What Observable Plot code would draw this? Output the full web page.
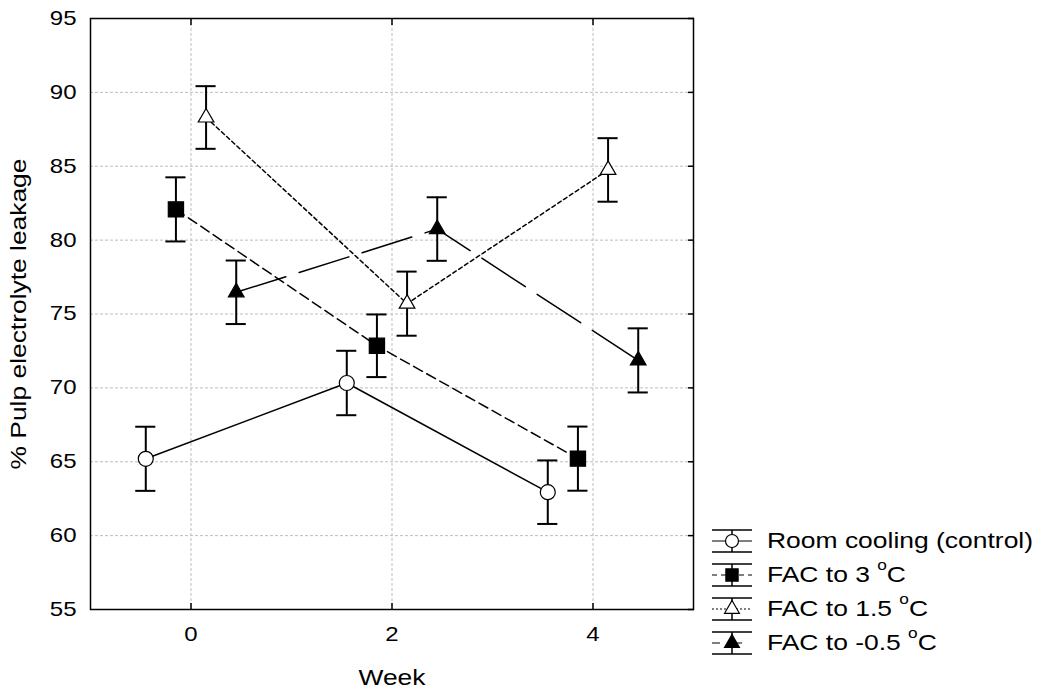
<!DOCTYPE html>
<html>
<head>
<meta charset="utf-8">
<script src="https://cdn.jsdelivr.net/npm/d3@7"></script>
<script src="https://cdn.jsdelivr.net/npm/@observablehq/plot@0.6"></script>
<style>
  html, body { margin: 0; padding: 0; background: #fff; }
  body { width: 1039px; height: 691px; position: relative; overflow: hidden; font-family: "Liberation Sans", Arial, sans-serif; }
  #chart { position: absolute; left: 0; top: 0; }
  #legend { position: absolute; left: 700px; top: 524px; font-size: 21.5px; color: #000; }
  .row { display: flex; align-items: center; height: 34px; }
  .row svg { margin-left: 11px; margin-right: 14px; flex: none; }
  .row span { display: inline-block; transform: scaleX(1.23); transform-origin: left center; white-space: nowrap; }
  sup { font-size: 14px; position: relative; top: -3px; vertical-align: super; line-height: 0; }
</style>
</head>
<body>
<div id="chart"></div>
<div id="legend"></div>
<script>
// ---- data ----
const weeks = [0, 2, 4];
const seriesNames = ["Room cooling (control)", "FAC to 3 °C", "FAC to 1.5 °C", "FAC to -0.5 °C"];
const xOffsets = [-0.45, -0.15, 0.15, 0.45];
const roomCooling = [65.2, 70.33, 62.94];
const fac3 = [82.08, 72.85, 65.21];
const fac15 = [88.3, 75.7, 84.75];
const facMinus05 = [76.47, 80.75, 71.86];
const errRoom = [2.17, 2.18, 2.15];
const errFac3 = [2.17, 2.12, 2.17];
const errFac15 = [2.12, 2.17, 2.15];
const errFacM05 = [2.15, 2.15, 2.17];
const yTicks = [55, 60, 65, 70, 75, 80, 85, 90, 95];
const xTicks = [0, 2, 4];

const seriesValues = [roomCooling, fac3, fac15, facMinus05];
const seriesErrors = [errRoom, errFac3, errFac15, errFacM05];
const styles = [
  {symbol: "circle", fill: "white", r: 7.5, dash: null},
  {symbol: "square", fill: "black", r: 8.6, dash: "10,5"},
  {symbol: "triangle", fill: "white", r: 5.8, dash: "4,3"},
  {symbol: "triangle", fill: "black", r: 5.8, dash: "52,14"}
];

const rows = [];
seriesNames.forEach((name, i) => {
  weeks.forEach((w, j) => {
    rows.push({series: name, si: i, x: w + xOffsets[i], y: seriesValues[i][j], e: seriesErrors[i][j]});
  });
});

const capHalf = 0.1;
const marks = [
  Plot.gridY(yTicks.slice(1, -1), {stroke: "#bdbdbd", strokeOpacity: 1, strokeDasharray: "3,2", strokeWidth: 1}),
  Plot.gridX(xTicks, {stroke: "#bdbdbd", strokeOpacity: 1, strokeDasharray: "3,2", strokeWidth: 1}),
];
seriesNames.forEach((name, i) => {
  const d = rows.filter(r => r.si === i);
  const st = styles[i];
  marks.push(Plot.line(d, {x: "x", y: "y", stroke: "black", strokeWidth: 1.5, strokeDasharray: st.dash}));
});
marks.push(Plot.ruleX(rows, {x: "x", y1: d => d.y - d.e, y2: d => d.y + d.e, stroke: "black", strokeWidth: 2}));
marks.push(Plot.ruleY(rows, {y: d => d.y - d.e, x1: d => d.x - capHalf, x2: d => d.x + capHalf, stroke: "black", strokeWidth: 2}));
marks.push(Plot.ruleY(rows, {y: d => d.y + d.e, x1: d => d.x - capHalf, x2: d => d.x + capHalf, stroke: "black", strokeWidth: 2}));
seriesNames.forEach((name, i) => {
  const d = rows.filter(r => r.si === i);
  const st = styles[i];
  marks.push(Plot.dot(d, {x: "x", y: "y", symbol: () => st.symbol, r: st.r, fill: st.fill, stroke: "black", strokeWidth: 1.2}));
});
marks.push(Plot.frame({stroke: "black", strokeWidth: 1.5}));
marks.push(Plot.axisY(yTicks, {anchor: "left", tickSize: 0, tickPadding: 14, label: "% Pulp electrolyte leakage", labelAnchor: "center", labelArrow: "none", labelOffset: 80}));
marks.push(Plot.axisX(xTicks, {anchor: "bottom", tickSize: 0, tickPadding: 17, label: "Week", labelAnchor: "center", labelArrow: "none", labelOffset: 75}));
marks.push(Plot.axisX(xTicks, {anchor: "bottom", tickSize: -6, tickFormat: () => "", label: null, strokeWidth: 1.5}));
marks.push(Plot.axisX(xTicks, {anchor: "top", tickSize: -6, tickFormat: () => "", label: null, strokeWidth: 1.5}));
marks.push(Plot.axisY(yTicks, {anchor: "right", tickSize: -6, tickFormat: () => "", label: null, strokeWidth: 1.5}));

const chart = Plot.plot({
  width: 1039,
  height: 691,
  marginLeft: 90,
  marginRight: 346,
  marginTop: 18,
  marginBottom: 82,
  style: {fontFamily: "'Liberation Sans', Arial, sans-serif", color: "black", background: "white"},
  x: {domain: [-1, 5]},
  y: {domain: [55, 95]},
  marks
});
// text sizing and horizontal stretch like the reference
const stretch = 1.2;
chart.querySelectorAll("g[aria-label$='tick label'] text").forEach(t => {
  t.style.fontSize = "20px";
  t.setAttribute("transform", (t.getAttribute("transform") || "") + ` scale(${stretch},1)`);
});
chart.querySelectorAll("g[aria-label$='axis label'] text").forEach(t => {
  t.style.fontSize = "22px";
  t.setAttribute("transform", (t.getAttribute("transform") || "") + ` scale(${stretch},1)`);
});
document.getElementById("chart").appendChild(chart);

// ---- legend ----
const legend = document.getElementById("legend");
const labelsHtml = ["Room cooling (control)", "FAC to 3 <sup>o</sup>C", "FAC to 1.5 <sup>o</sup>C", "FAC to -0.5 <sup>o</sup>C"];
seriesNames.forEach((name, i) => {
  const st = styles[i];
  const row = document.createElement("div");
  row.className = "row";
  const sw = d3.create("svg").attr("width", 42).attr("height", 30);
  sw.append("line").attr("x1", 1).attr("x2", 41).attr("y1", 4).attr("y2", 4).attr("stroke", "black").attr("stroke-width", 1.5);
  sw.append("line").attr("x1", 1).attr("x2", 41).attr("y1", 26).attr("y2", 26).attr("stroke", "black").attr("stroke-width", 1.5);
  sw.append("line").attr("x1", 21).attr("x2", 21).attr("y1", 4).attr("y2", 26).attr("stroke", "black").attr("stroke-width", 1.5);
  sw.append("line").attr("x1", 1).attr("x2", 41).attr("y1", 15).attr("y2", 15).attr("stroke", "black").attr("stroke-width", 1.2)
    .attr("stroke-dasharray", i === 0 ? null : i === 1 ? "5,4" : i === 2 ? "2,2" : "8,14");
  const sym = st.symbol === "circle" ? d3.symbolCircle : st.symbol === "square" ? d3.symbolSquare : d3.symbolTriangle;
  const size = st.symbol === "circle" ? Math.PI * 6.5 * 6.5 : st.symbol === "square" ? 150 : 95;
  sw.append("path").attr("d", d3.symbol(sym, size)()).attr("transform", "translate(21,15)")
    .attr("fill", st.fill).attr("stroke", "black").attr("stroke-width", 1.2);
  row.appendChild(sw.node());
  const span = document.createElement("span");
  span.innerHTML = labelsHtml[i];
  row.appendChild(span);
  legend.appendChild(row);
});
</script>
</body>
</html>
